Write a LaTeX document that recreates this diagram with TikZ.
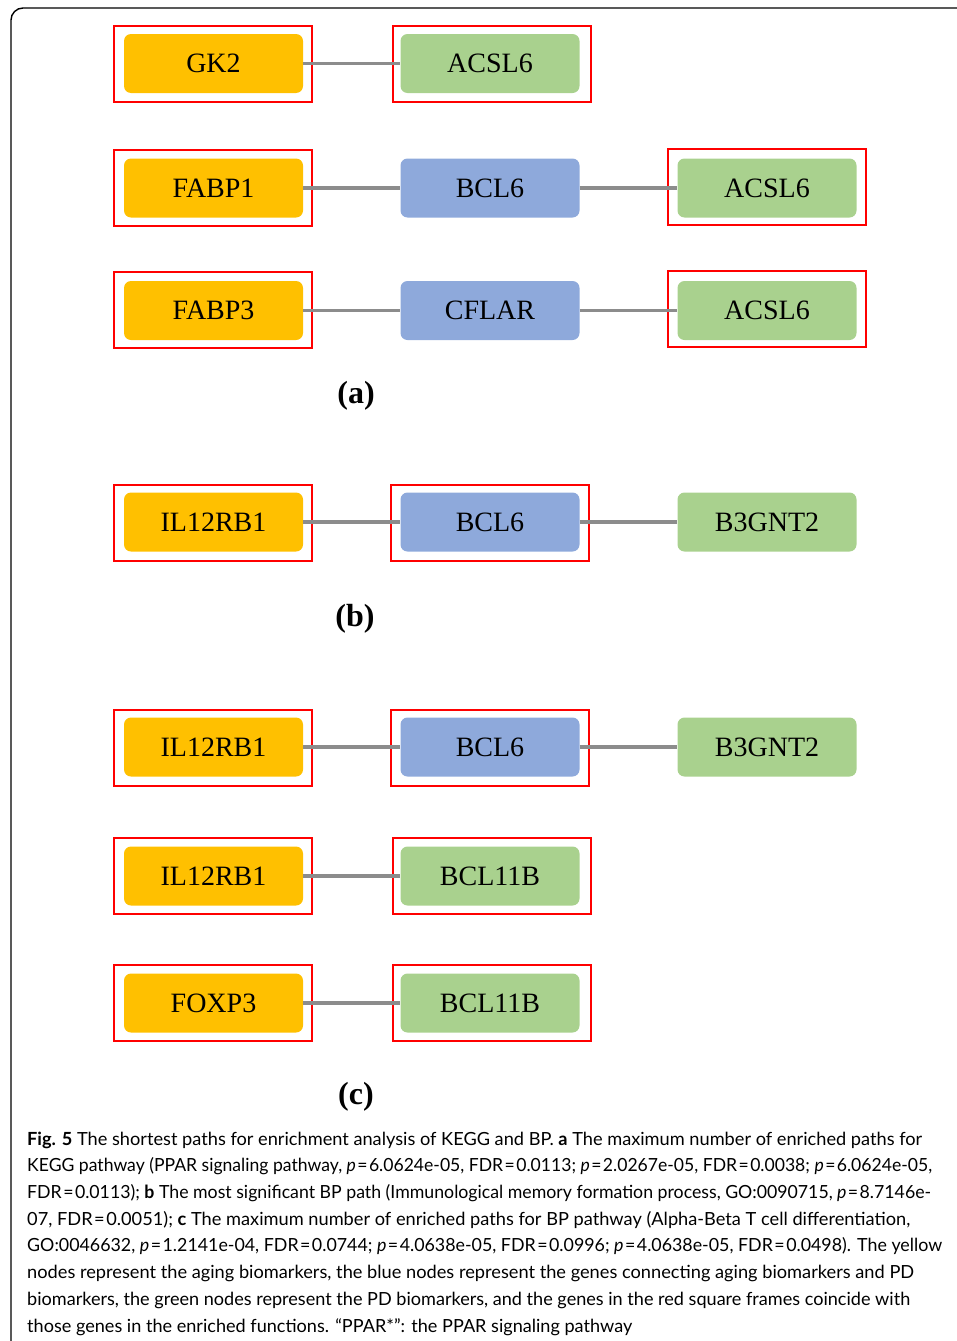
\documentclass[tikz,border=0pt]{standalone}
\usepackage{fontspec}
\usepackage{graphicx}
\setmainfont{Liberation Serif}
\newfontfamily\capfont{Lato}
\definecolor{gyellow}{HTML}{FFC000}
\definecolor{gblue}{HTML}{8EA9DB}
\definecolor{ggreen}{HTML}{A9D18E}
\definecolor{edgegray}{HTML}{8C8C8C}
\newcommand{\eqq}{\kern1.5pt=\kern1.5pt}
\newcommand{\capline}[2]{\resizebox{#1pt}{\height}{#2}}
\begin{document}
\begin{tikzpicture}[x=1pt,y=-1pt,
  gene/.style={rounded corners=7pt, minimum width=179pt, minimum height=59pt, inner sep=0pt, font=\fontsize{28}{30}\selectfont},
  yel/.style={gene, fill=gyellow},
  blu/.style={gene, fill=gblue},
  grn/.style={gene, fill=ggreen},
  hilite/.style={draw=red, line width=2pt, minimum width=198pt, minimum height=76pt, inner sep=0pt},
  link/.style={draw=edgegray, line width=3.8pt},
  panel/.style={font=\bfseries\fontsize{32}{34}\selectfont},
  captext/.style={font=\capfont\fontsize{18.1}{26.7}\selectfont, align=left, anchor=base west, inner sep=0pt}
]
\useasboundingbox (0,0) rectangle (957,1341);
% outer frame
\draw[line width=1.4pt, rounded corners=12pt] (11,1345) -- (11,8) -- (962,8);

% ---- (a)
\node[hilite] (f1) at (212.5,64) {};
\node[hilite] (f2) at (491.5,64) {};
\node[yel] (gk2) at (213.5,63.5) {GK2};
\node[grn] (acsl6a) at (490,63.5) {ACSL6};
\draw[link] (gk2) -- (acsl6a);

\node[hilite] (f3) at (212.5,188) {};
\node[hilite] (f4) at (767,187) {};
\node[yel] (fabp1) at (213.5,188) {FABP1};
\node[blu] (bcl6a) at (490,188) {BCL6};
\node[grn] (acsl6b) at (767,188) {ACSL6};
\draw[link] (fabp1) -- (bcl6a);
\draw[link] (bcl6a) -- (acsl6b);

\node[hilite] (f5) at (212.5,310) {};
\node[hilite] (f6) at (767,309) {};
\node[yel] (fabp3) at (213.5,310.5) {FABP3};
\node[blu] (cflar) at (490,310.5) {CFLAR};
\node[grn] (acsl6c) at (767,310.5) {ACSL6};
\draw[link] (fabp3) -- (cflar);
\draw[link] (cflar) -- (acsl6c);

\node[panel] (la) at (356,396) {(a)};

% ---- (b)
\node[hilite] (f7) at (212.5,522.5) {};
\node[hilite] (f8) at (490,522.5) {};
\node[yel] (il1) at (213.5,522) {IL12RB1};
\node[blu] (bcl6b) at (490,522) {BCL6};
\node[grn] (b3a) at (767,522) {B3GNT2};
\draw[link] (il1) -- (bcl6b);
\draw[link] (bcl6b) -- (b3a);

\node[panel] (lb) at (355,619) {(b)};

% ---- (c)
\node[hilite] (f9) at (212.5,748) {};
\node[hilite] (f10) at (490,748) {};
\node[yel] (il2) at (213.5,747) {IL12RB1};
\node[blu] (bcl6c) at (490,747) {BCL6};
\node[grn] (b3b) at (767,747) {B3GNT2};
\draw[link] (il2) -- (bcl6c);
\draw[link] (bcl6c) -- (b3b);

\node[hilite] (f11) at (212.5,876) {};
\node[hilite] (f12) at (491.5,876) {};
\node[yel] (il3) at (213.5,876) {IL12RB1};
\node[grn] (bcl11a) at (490,876) {BCL11B};
\draw[link] (il3) -- (bcl11a);

\node[hilite] (f13) at (212.5,1003) {};
\node[hilite] (f14) at (491.5,1003) {};
\node[yel] (foxp3) at (213.5,1003) {FOXP3};
\node[grn] (bcl11b) at (490,1003) {BCL11B};
\draw[link] (foxp3) -- (bcl11b);

\node[panel] (lc) at (356,1097) {(c)};

% ---- caption (anchored at the baseline of its last line)
\node[captext] (caption) at (27,1332) {%
\capline{895}{\textbf{Fig. 5} The shortest paths for enrichment analysis of KEGG and BP. \textbf{a} The maximum number of enriched paths for}\\
\capline{905}{KEGG pathway (PPAR signaling pathway, \textit{p}\eqq6.0624e-05, FDR\eqq0.0113; \textit{p}\eqq2.0267e-05, FDR\eqq0.0038; \textit{p}\eqq6.0624e-05,}\\
\capline{904}{FDR\eqq0.0113); \textbf{b} The most significant BP path (Immunological memory formation process, GO:0090715, \textit{p}\eqq8.7146e-}\\
\capline{883}{07, FDR\eqq0.0051); \textbf{c} The maximum number of enriched paths for BP pathway (Alpha-Beta T cell differentiation,}\\
\capline{915}{GO:0046632, \textit{p}\eqq1.2141e-04, FDR\eqq0.0744; \textit{p}\eqq4.0638e-05, FDR\eqq0.0996; \textit{p}\eqq4.0638e-05, FDR\eqq0.0498). The yellow}\\
\capline{887}{nodes represent the aging biomarkers, the blue nodes represent the genes connecting aging biomarkers and PD}\\
\capline{883}{biomarkers, the green nodes represent the PD biomarkers, and the genes in the red square frames coincide with}\\
\capline{605}{those genes in the enriched functions. “PPAR*”: the PPAR signaling pathway}};
\end{tikzpicture}
\end{document}
